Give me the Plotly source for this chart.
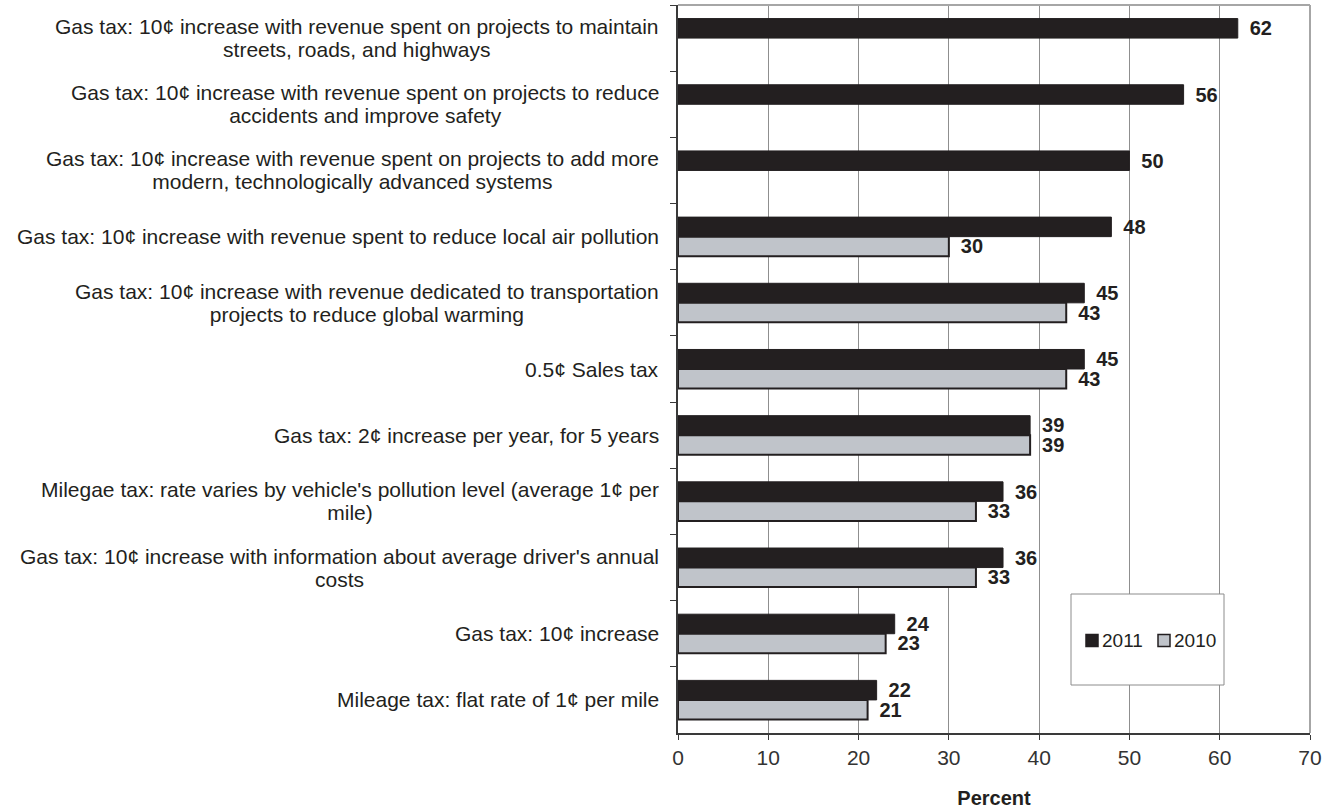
import plotly.graph_objects as go

# Survey items (top to bottom) and percent support by year
categories = [
    "Gas tax: 10¢ increase with revenue spent on projects to maintain<br>streets, roads, and highways",
    "Gas tax: 10¢ increase with revenue spent on projects to reduce<br>accidents and improve safety",
    "Gas tax: 10¢ increase with revenue spent on projects to add more<br>modern, technologically advanced systems",
    "Gas tax: 10¢ increase with revenue spent to reduce local air pollution",
    "Gas tax: 10¢ increase with revenue dedicated to transportation<br>projects to reduce global warming",
    "0.5¢ Sales tax",
    "Gas tax: 2¢ increase per year, for 5 years",
    "Milegae tax: rate varies by vehicle's pollution level (average 1¢ per<br>mile)",
    "Gas tax: 10¢ increase with information about average driver's annual<br>costs",
    "Gas tax: 10¢ increase",
    "Mileage tax: flat rate of 1¢ per mile",
]
series_names = ["2011", "2010"]
values_2011 = [62, 56, 50, 48, 45, 45, 39, 36, 36, 24, 22]
values_2010 = [None, None, None, 30, 43, 43, 39, 33, 33, 23, 21]

FONT = "Liberation Sans, Arial, sans-serif"
ink = "#231f20"
light = "#c0c4ca"
colors = [ink, light]
outlines = [dict(color=ink, width=1), dict(color=ink, width=2)]

# Plot-area pixel geometry used for the hand-drawn legend
L, R, T, B = 678, 1310, 5, 733
def px_x(p):
    return (p - L) / (R - L)
def px_y(p):
    return (B - p) / (B - T)

fig = go.Figure()
for name, vals, col, outline in zip(series_names, [values_2011, values_2010], colors, outlines):
    fig.add_trace(go.Bar(
        name=name, y=categories, x=vals, orientation="h",
        marker=dict(color=col, line=outline),
        texttemplate="<span style='font-size:16px'>\u00a0\u00a0</span>%{x}",
        textposition="outside",
        textfont=dict(family=FONT, size=20, color=ink, weight="bold"),
        constraintext="none", cliponaxis=False, showlegend=False,
    ))

# Category labels: right-aligned block, centred lines, tight line spacing
for cat in categories:
    lines = cat.split("<br>")
    txt = "<br>".join(f"<span style='font-size:21px'>{ln}</span>" for ln in lines)
    fig.add_annotation(
        x=0, xref="paper", y=cat, yref="y", xanchor="right", yanchor="middle", xshift=-17,
        text=txt, showarrow=False, align="center",
        font=dict(family=FONT, size=17.7, color=ink),
    )

# Top and right frame lines
fig.add_shape(type="line", xref="paper", yref="paper", x0=0, x1=1, y0=1, y1=1,
              line=dict(color="#a6a6a6", width=2))
fig.add_shape(type="line", xref="paper", yref="paper", x0=1, x1=1, y0=0, y1=1,
              line=dict(color="#a6a6a6", width=2))

# Legend box with swatches and labels
fig.add_shape(type="rect", xref="paper", yref="paper",
              x0=px_x(1071), x1=px_x(1224), y0=px_y(685), y1=px_y(594),
              fillcolor="white", line=dict(color="#8c8c8c", width=1), layer="above")
legend_items = [(1086, 1100), (1158, 1172)]
for (sx, tx), name, col in zip(legend_items, series_names, colors):
    fig.add_shape(type="rect", xref="paper", yref="paper",
                  x0=px_x(sx), x1=px_x(sx + 12), y0=px_y(646.5), y1=px_y(634.5),
                  fillcolor=col, line=dict(color=ink, width=1.5), layer="above")
    fig.add_annotation(x=px_x(tx), xref="paper", y=px_y(640.5), yref="paper",
                       xanchor="left", yanchor="middle", text=name, showarrow=False,
                       font=dict(family=FONT, size=19, color=ink))

fig.update_layout(
    width=1336, height=811,
    margin=dict(l=L, r=1336 - R, t=T, b=811 - B),
    paper_bgcolor="white", plot_bgcolor="white",
    barmode="group", bargap=0.41, bargroupgap=0,
    showlegend=False,
    xaxis=dict(
        range=[0, 70], dtick=10, showgrid=True, gridcolor="#8f8f8f", gridwidth=1,
        zeroline=False, showline=True, linecolor="#3a3a3a", linewidth=2,
        ticks="outside", ticklen=5, tickcolor="#3a3a3a",
        tickfont=dict(family=FONT, size=21, color="#333333"),
        ticklabelstandoff=0,
        title=dict(text="<b>Percent</b>", standoff=23,
                   font=dict(family=FONT, size=20, color=ink)),
    ),
    yaxis=dict(
        autorange="reversed", showticklabels=False, showgrid=False, zeroline=False,
        showline=True, linecolor="#3a3a3a", linewidth=2,
        ticks="outside", tickson="boundaries", ticklen=6, tickcolor="#3a3a3a",
    ),
)

fig.write_html("out.html")
